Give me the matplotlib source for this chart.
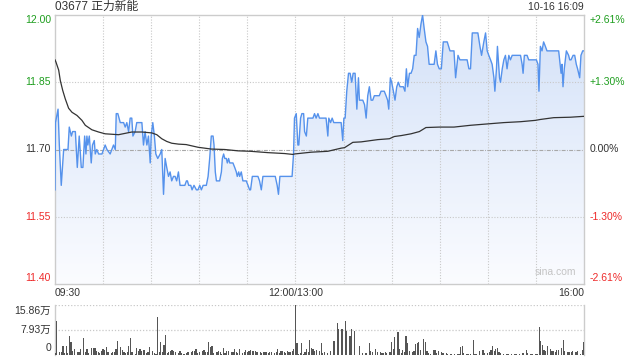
import numpy as np
import matplotlib
matplotlib.use("Agg")
import matplotlib.pyplot as plt
from matplotlib.patches import Polygon
from matplotlib.colors import LinearSegmentedColormap

plt.rcParams['font.family'] = ['Liberation Sans', 'Noto Sans CJK SC', 'DejaVu Sans']

title = "03677 正力新能"
stamp = "10-16 16:09"
prev_close = 11.70
price_ticks = [12.00, 11.85, 11.70, 11.55, 11.40]
price_tick_labels = ["12.00", "11.85", "11.70", "11.55", "11.40"]
pct_tick_labels = ["+2.61%", "+1.30%", "0.00%", "-1.30%", "-2.61%"]
time_labels = ["09:30", "12:00/13:00", "16:00"]
time_label_pos = [0, 150, 330]
vol_tick_labels = ["15.86万", "7.93万", "0"]
vol_max = 15.86

# minutes since 09:30 (trading minutes, lunch break removed)
minute = [0, 0.3, 1.9, 2.7, 3.9, 5.4, 8.1, 8.9, 10.2, 11, 12.7, 13.9, 15.1, 16.4, 17.4, 18.5, 19.3, 19.9,
          20.5, 21.4, 22.6, 23.4, 24.5, 25.1, 26.1, 27.2, 29.3, 30.3, 31.3, 32.4, 34.4, 36.5, 37.6, 38.2,
          39.2, 40.7, 41.7, 42.8, 43.8, 44.8, 45.9, 46.9, 47.9, 48.6, 50, 51, 53.1, 54.2, 55.2, 56.2,
          57.3, 58.3, 59.4, 60, 61, 62, 62.9, 64.1, 65.6, 66.6, 67.7, 68.7, 69.7, 70.8, 71.8, 72.8,
          73.9, 74.9, 75.9, 77, 78, 80, 81, 82, 82.6, 83.4, 84.7, 85.5, 86.7, 88.2, 89.2, 90.3, 91.3,
          92.4, 93.4, 94.4, 95.5, 96.5, 97.5, 98.6, 99.2, 100, 100.7, 101.7, 102.7, 103.8, 104.4, 105.2,
          105.9, 106.9, 107.5, 108.3, 109, 110, 111, 112.1, 113.1, 113.7, 114.6, 115.2, 116.2, 117.2,
          118.3, 119.3, 120.4, 121.4, 122, 123.1, 124.5, 126.6, 127.6, 128.7, 129.7, 131.8, 133.9, 136,
          137.4, 138.6, 139.4, 140.3, 142.2, 144.2, 146.3, 147.3, 147.9, 148.8, 149.4, 150.5, 151.5,
          152.1, 153.2, 154, 155.1, 155.7, 156.8, 157.7, 158.8, 159.8, 160.9, 161.9, 162.9, 164, 165,
          166, 168.1, 169.1, 170.2, 170.8, 171.9, 172.9, 173.9, 175.4, 177.4, 178.5, 179.5, 180.2, 181,
          182, 183.1, 184.1, 185.1, 186, 187.2, 188.3, 189.3, 189.9, 191, 192, 193.1, 194.1, 195.1,
          196.1, 197.2, 198.2, 199.2, 200.3, 201.3, 202.3, 203.4, 205.4, 206.5, 207.5, 208.2, 209.2,
          210, 211.1, 212.1, 213.2, 214.2, 215.2, 216.2, 217.3, 218.3, 219.2, 220, 221.1, 222.1, 223.1,
          224.1, 225.2, 226.2, 227.2, 228.3, 229.3, 230.3, 231.4, 232.4, 233.4, 234.5, 235.5, 236.5,
          237.6, 238.6, 239.7, 241, 242.2, 244.7, 246.4, 248.9, 249.9, 251.4, 252.6, 255.1, 257.1,
          258.2, 259.2, 260.3, 262.4, 263.8, 265.1, 266.1, 267.5, 268.6, 269.6, 270.6, 271.7, 272.7,
          273.8, 274.4, 275.4, 276, 277.3, 277.9, 279, 280, 281, 282, 283.1, 284.1, 285.2, 287.3, 289.3,
          290.4, 291.4, 292, 292.8, 294.5, 295.5, 297.6, 300.3, 301.3, 301.9, 302.8, 303.8, 304.8, 305.9,
          306.9, 309, 311.1, 313.2, 314.2, 314.8, 315.7, 316.3, 316.9, 317.7, 319, 320.4, 321.1, 321.9,
          323.2, 324.2, 325.2, 326, 327.3, 328.1, 329.2, 330]
price = [11.61, 11.76, 11.79, 11.71, 11.62, 11.70, 11.70, 11.75, 11.73, 11.74, 11.74, 11.66, 11.73, 11.66,
         11.66, 11.73, 11.69, 11.73, 11.71, 11.73, 11.67, 11.71, 11.72, 11.69, 11.70, 11.69, 11.69, 11.70,
         11.71, 11.70, 11.69, 11.71, 11.70, 11.78, 11.78, 11.76, 11.76, 11.76, 11.75, 11.76, 11.74, 11.77,
         11.77, 11.73, 11.74, 11.76, 11.76, 11.76, 11.71, 11.74, 11.71, 11.73, 11.67, 11.73, 11.76, 11.73,
         11.69, 11.68, 11.69, 11.70, 11.60, 11.68, 11.66, 11.64, 11.65, 11.63, 11.64, 11.64, 11.63, 11.65,
         11.62, 11.62, 11.62, 11.63, 11.63, 11.62, 11.62, 11.61, 11.62, 11.61, 11.61, 11.62, 11.61, 11.62,
         11.62, 11.62, 11.64, 11.68, 11.73, 11.73, 11.71, 11.65, 11.63, 11.63, 11.63, 11.65, 11.68, 11.69,
         11.68, 11.68, 11.67, 11.68, 11.67, 11.67, 11.67, 11.66, 11.65, 11.64, 11.65, 11.64, 11.65, 11.63,
         11.63, 11.63, 11.62, 11.61, 11.61, 11.64, 11.64, 11.64, 11.63, 11.61, 11.64, 11.64, 11.64, 11.64,
         11.64, 11.62, 11.60, 11.64, 11.64, 11.64, 11.64, 11.64, 11.64, 11.69, 11.77, 11.78, 11.71, 11.71,
         11.77, 11.78, 11.78, 11.74, 11.73, 11.77, 11.77, 11.77, 11.77, 11.78, 11.77, 11.78, 11.77, 11.77,
         11.77, 11.77, 11.73, 11.77, 11.76, 11.77, 11.76, 11.76, 11.76, 11.76, 11.72, 11.77, 11.77, 11.83,
         11.87, 11.87, 11.85, 11.87, 11.87, 11.79, 11.86, 11.81, 11.81, 11.81, 11.80, 11.77, 11.82, 11.84,
         11.81, 11.81, 11.82, 11.82, 11.82, 11.82, 11.83, 11.83, 11.82, 11.81, 11.79, 11.86, 11.85, 11.83,
         11.81, 11.84, 11.85, 11.84, 11.84, 11.84, 11.83, 11.88, 11.84, 11.87, 11.87, 11.88, 11.91, 11.91,
         11.97, 11.95, 11.98, 12.00, 11.97, 11.94, 11.93, 11.89, 11.89, 11.89, 11.89, 11.92, 11.89, 11.88,
         11.88, 11.94, 11.94, 11.92, 11.92, 11.86, 11.91, 11.90, 11.90, 11.90, 11.88, 11.88, 11.96, 11.96,
         11.96, 11.93, 11.91, 11.94, 11.96, 11.92, 11.91, 11.90, 11.89, 11.86, 11.83, 11.88, 11.93, 11.86,
         11.85, 11.88, 11.90, 11.91, 11.88, 11.91, 11.90, 11.91, 11.91, 11.91, 11.91, 11.89, 11.87, 11.91,
         11.91, 11.90, 11.90, 11.90, 11.89, 11.83, 11.93, 11.92, 11.94, 11.93, 11.92, 11.92, 11.92, 11.92,
         11.92, 11.90, 11.87, 11.89, 11.84, 11.88, 11.92, 11.91, 11.90, 11.90, 11.91, 11.91, 11.89, 11.88,
         11.86, 11.91, 11.92, 11.92]

avg_minute = [0, 0.6, 2.3, 3.3, 4.8, 6.4, 8.5, 10.6, 13.7, 16.8, 18.9, 23, 27.2, 31.3, 35.5, 39.6, 47.9,
              54.2, 60.4, 63.5, 66.6, 69.7, 72.8, 77, 81.8, 89.2, 97.5, 105.9, 114.2, 122, 132.8, 143.2,
              148.4, 149.4, 159.8, 170.2, 178.5, 180.6, 185.8, 191, 201.3, 208.6, 211.7, 215.9, 222.1,
              227.3, 231.4, 239.7, 248.9, 259.2, 269.6, 280, 290.4, 299.7, 302.8, 311.1, 321.5, 330]
avg_price = [11.90, 11.895, 11.877, 11.854, 11.832, 11.813, 11.792, 11.783, 11.776, 11.765, 11.754,
             11.744, 11.739, 11.735, 11.734, 11.733, 11.739, 11.739, 11.737, 11.733, 11.724, 11.718,
             11.714, 11.712, 11.711, 11.705, 11.701, 11.700, 11.697, 11.696, 11.693, 11.691, 11.689,
             11.690, 11.694, 11.696, 11.703, 11.704, 11.716, 11.717, 11.722, 11.724, 11.729, 11.731,
             11.735, 11.740, 11.749, 11.750, 11.750, 11.754, 11.757, 11.760, 11.762, 11.765, 11.767,
             11.771, 11.772, 11.774]

# volume (万股): (trading minute, volume) pairs
volume_by_minute = [
    (0, 0.7), (1, 10.9), (3, 0.85), (4, 1.06), (5, 2.9), (6, 0.5), (7, 2.9), (8, 0.5), (9, 6.0),
    (10, 4.2), (11, 1.4), (12, 1.9), (14, 0.85), (15, 1.06), (16, 1.9), (18, 5.4), (19, 0.85),
    (20, 1.9), (21, 0.5), (23, 2.2), (24, 2.2), (25, 2.2), (26, 1.4), (27, 0.85), (28, 0.5),
    (29, 1.4), (30, 1.9), (31, 1.6), (32, 2.6), (33, 0.85), (35, 0.5), (36, 0.85), (37, 1.06),
    (38, 1.9), (39, 4.5), (41, 2.6), (42, 1.6), (43, 0.85), (44, 0.5), (45, 0.85), (46, 2.9),
    (47, 5.4), (48, 0.85), (50, 0.3), (51, 2.2), (52, 1.4), (53, 1.9), (54, 1.4), (55, 1.6),
    (56, 1.6), (57, 0.5), (58, 0.85), (59, 2.6), (61, 1.4), (62, 0.5), (63, 0.3), (64, 12.2),
    (65, 1.06), (66, 4.2), (67, 0.85), (68, 3.2), (69, 6.4), (70, 0.5), (71, 1.06), (72, 1.4),
    (73, 1.6), (74, 1.3), (75, 0.85), (77, 0.5), (78, 1.3), (79, 0.5), (80, 0.3), (81, 0.3),
    (82, 0.5), (83, 1.06), (85, 0.85), (86, 1.3), (87, 1.4), (88, 1.8), (89, 0.5), (90, 0.85),
    (92, 1.3), (93, 1.6), (94, 0.85), (95, 1.06), (96, 4.2), (97, 2.6), (98, 2.9), (99, 0.5),
    (101, 0.85), (102, 1.4), (103, 0.85), (104, 0.3), (105, 2.1), (106, 0.5), (107, 1.4),
    (108, 1.4), (110, 1.06), (111, 1.06), (112, 1.8), (113, 1.06), (114, 0.5), (115, 1.8),
    (117, 0.5), (118, 0.85), (119, 1.6), (120, 1.06), (121, 1.4), (122, 1.6), (123, 1.4),
    (124, 1.3), (125, 1.4), (126, 0.85), (128, 0.85), (129, 0.7), (130, 1.06), (131, 0.85),
    (132, 1.06), (133, 0.5), (134, 0.85), (135, 1.06), (137, 0.5), (138, 1.06), (139, 1.8),
    (140, 0.7), (141, 1.4), (142, 1.4), (143, 0.85), (144, 0.5), (145, 1.3), (146, 0.85),
    (147, 1.06), (148, 1.4), (149, 1.9), (150, 15.86), (151, 3.9), (152, 0.3), (153, 0.5),
    (154, 3.9), (155, 0.3), (156, 0.85), (157, 1.9), (158, 1.06), (159, 4.8), (160, 2.1),
    (161, 1.9), (162, 1.4), (163, 1.6), (165, 1.3), (166, 3.7), (167, 0.75), (168, 1.0),
    (170, 0.75), (172, 1.3), (174, 4.3), (176, 10.1), (177, 8.1), (179, 8.1), (181, 10.7),
    (182, 7.6), (184, 5.9), (185, 8.1), (187, 7.6), (190, 3.0), (192, 0.65), (194, 0.75),
    (196, 3.7), (197, 1.3), (198, 1.0), (200, 1.8), (201, 1.0), (203, 1.0), (204, 0.75),
    (205, 0.75), (206, 1.1), (207, 0.65), (209, 1.0), (210, 4.0), (211, 1.8), (212, 5.6),
    (214, 7.4), (215, 1.8), (216, 0.75), (217, 1.5), (218, 1.1), (219, 5.9), (220, 3.7),
    (221, 1.3), (223, 1.1), (224, 1.3), (225, 3.5), (226, 3.7), (227, 4.0), (228, 1.7),
    (230, 5.0), (231, 4.0), (232, 1.3), (233, 0.65), (234, 0.43), (236, 1.7), (237, 1.5),
    (238, 0.65), (239, 1.3), (241, 1.0), (242, 0.75), (244, 0.65), (245, 0.2), (247, 0.43),
    (249, 0.2), (251, 0.43), (252, 0.43), (253, 2.6), (254, 2.7), (255, 0.65), (257, 0.43),
    (258, 0.2), (259, 0.43), (261, 4.6), (262, 0.43), (263, 0.2), (265, 1.3), (267, 1.5),
    (268, 0.75), (270, 0.75), (271, 1.0), (272, 1.5), (273, 2.7), (274, 1.3), (275, 1.8),
    (276, 2.2), (277, 1.1), (278, 0.75), (280, 0.43), (282, 0.2), (283, 0.2), (285, 0.2),
    (287, 0.2), (288, 0.43), (290, 0.43), (292, 0.75), (294, 1.5), (295, 0.75), (297, 0.43),
    (298, 0.43), (300, 0.43), (301, 0.43), (302, 8.8), (303, 4.3), (304, 3.2), (305, 1.5),
    (306, 1.3), (307, 2.9), (309, 1.8), (310, 1.3), (311, 1.3), (312, 1.0), (313, 1.5),
    (314, 1.5), (316, 2.2), (317, 4.9), (318, 1.3), (320, 1.0), (321, 1.0), (322, 1.0),
    (323, 1.3), (325, 1.0), (326, 1.3), (328, 0.43), (329, 1.5), (330, 4.0),
]
vol_minute = [m for m, v in volume_by_minute]
volume = [v for m, v in volume_by_minute]

GREEN = '#1e9e1e'
RED = '#ee2a2a'
DARK = '#333333'
GRIDC = '#c8c8c8'
FRAME = '#cccccc'

W, H = 640, 360
fig = plt.figure(figsize=(6.4, 3.6), dpi=100)
fig.patch.set_facecolor('white')

L, R = 55, 584
T_main, B_main = 15, 284
T_vol, B_vol = 305, 355

ax = fig.add_axes([L / W, 1 - B_main / H, (R - L) / W, (B_main - T_main) / H])
ax.set_xlim(0, 330)
ax.set_ylim(price_ticks[-1], price_ticks[0])

# gradient fill under the price line
cmap = LinearSegmentedColormap.from_list('fill', ['#fbfcff', '#d3e1f8'])
grad = np.linspace(0, 1, 256).reshape(-1, 1)
im = ax.imshow(grad, extent=[0, 330, price_ticks[-1], price_ticks[0]], origin='lower',
               aspect='auto', cmap=cmap, zorder=1)
verts = list(zip(minute, price)) + [(minute[-1], price_ticks[-1]), (minute[0], price_ticks[-1])]
poly = Polygon(verts, closed=True, facecolor='none', edgecolor='none')
ax.add_patch(poly)
im.set_clip_path(poly)

# grid
for m in range(30, 330, 30):
    ax.axvline(m, color=GRIDC, lw=0.8, ls=(0, (1, 1.5)), zorder=2)
for p in price_ticks[1:-1]:
    if p == prev_close:
        ax.axhline(p, color='#a8a8a8', lw=0.8, ls=(0, (3.5, 1.2, 0.8, 1.2)), zorder=2)
    else:
        ax.axhline(p, color=GRIDC, lw=0.8, ls=(0, (1, 1.5)), zorder=2)

ax.plot(minute, price, color='#5592ec', lw=1.0, zorder=4)
ax.plot(avg_minute, avg_price, color='#333333', lw=0.9, zorder=5)

ax.set_xticks([])
ax.set_yticks([])
for s in ax.spines.values():
    s.set_color(FRAME)
    s.set_linewidth(1.0)

def fx(px):
    return px / W

def fy(py):
    return 1 - py / H

fs = 7.5
lbl_y = [20, 82, 149, 217, 278]
lbl_col = [GREEN, GREEN, DARK, RED, RED]
for lab, yy, c in zip(price_tick_labels, lbl_y, lbl_col):
    fig.text(fx(51), fy(yy), lab, ha='right', va='center', fontsize=fs, color=c)
for lab, yy, c in zip(pct_tick_labels, lbl_y, lbl_col):
    fig.text(fx(590), fy(yy), lab, ha='left', va='center', fontsize=fs, color=c)

fig.text(fx(55), fy(7), title, ha='left', va='center', fontsize=8.5, color=DARK)
fig.text(fx(584), fy(7), stamp, ha='right', va='center', fontsize=fs, color=DARK)

fig.text(fx(L), fy(293), time_labels[0], ha='left', va='center', fontsize=fs, color=DARK)
fig.text(fx(L + (R - L) * time_label_pos[1] / 330), fy(293), time_labels[1], ha='center', va='center',
         fontsize=fs, color=DARK)
fig.text(fx(R), fy(293), time_labels[2], ha='right', va='center', fontsize=fs, color=DARK)

ax.text(0.985, 0.025, "sina.com", transform=ax.transAxes, ha='right', va='bottom', fontsize=7.5,
        color='#c4c4c4', zorder=6)

# volume panel
vax = fig.add_axes([L / W, 1 - B_vol / H, (R - L) / W, (B_vol - T_vol) / H])
vax.set_xlim(0, 330)
vax.set_ylim(0, vol_max)
vax.bar(vol_minute, volume, width=0.75, color='#555555', zorder=3)
vax.axhline(vol_max, color=GRIDC, lw=0.9, ls=(0, (1, 1.5)), zorder=2)
vax.axhline(vol_max / 2, color=GRIDC, lw=0.9, ls=(0, (1, 1.5)), zorder=2)
vax.set_xticks([])
vax.set_yticks([])
for k in ['top', 'bottom']:
    vax.spines[k].set_visible(False)
for k in ['left', 'right']:
    vax.spines[k].set_color(FRAME)
    vax.spines[k].set_linewidth(1.0)

for lab, yy in zip(vol_tick_labels, [311, 330, 348]):
    fig.text(fx(51), fy(yy), lab, ha='right', va='center', fontsize=fs, color=DARK)

fig.savefig('out.png', dpi=100)
